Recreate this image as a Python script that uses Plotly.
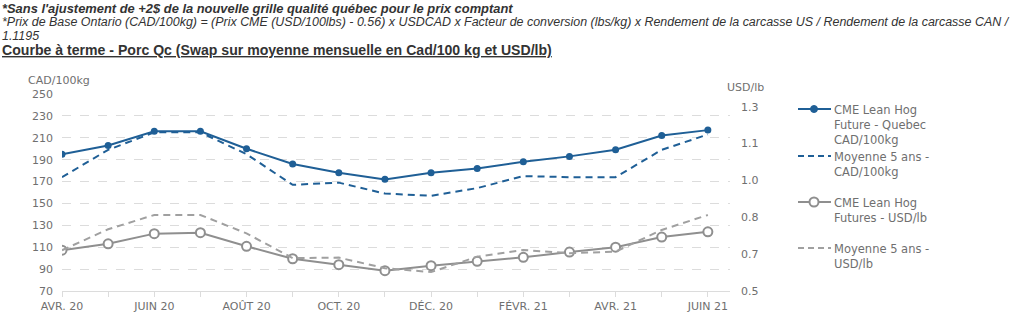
import plotly.graph_objects as go

# Monthly contract months (Apr 2020 - Jun 2021)
months = ["AVR. 20", "MAI 20", "JUIN 20", "JUIL. 20", "AOÛT 20", "SEPT. 20", "OCT. 20",
          "NOV. 20", "DÉC. 20", "JANV. 21", "FÉVR. 21", "MARS 21", "AVR. 21", "MAI 21", "JUIN 21"]
month_labels = ["AVR. 20", "", "JUIN 20", "", "AOÛT 20", "", "OCT. 20", "",
                "DÉC. 20", "", "FÉVR. 21", "", "AVR. 21", "", "JUIN 21"]

# CAD/100kg series (left axis)
cme_quebec_cad = [195, 203, 216, 216, 200, 186, 178, 172, 178, 182, 188, 193, 199, 212, 217]
avg5_cad = [174, 199, 215, 215, 195, 167, 169, 159, 157, 164, 175, 174, 174, 199, 213]

# USD/lb series (right axis)
cme_usd = [0.677, 0.705, 0.749, 0.753, 0.694, 0.640, 0.614, 0.588, 0.610, 0.629,
           0.646, 0.669, 0.690, 0.734, 0.757]
avg5_usd = [0.677, 0.768, 0.830, 0.830, 0.750, 0.643, 0.645, 0.599, 0.582, 0.649,
            0.678, 0.664, 0.671, 0.765, 0.830]

left_ticks = [70, 90, 110, 130, 150, 170, 190, 210, 230, 250]
right_ticks = [0.5, 0.66, 0.82, 0.98, 1.14, 1.30]

series_names = [
    "CME Lean Hog<br>Future - Quebec<br>CAD/100kg",
    "Moyenne 5 ans -<br>CAD/100kg",
    "CME Lean Hog<br>Futures - USD/lb",
    "Moyenne 5 ans -<br>USD/lb",
]

BLUE = "#1f5f96"
GRAY = "#8f8f8f"
GRAY_DASH = "#a0a0a0"
GRID = "#dcdcdc"
TXT = "#6f6f6f"
FONT = "DejaVu Sans"
DASH = "7px,5px"

# plot area geometry (pixels)
W, H = 1024, 324
L, R, T, B = 62, 294, 94, 33
PW, PH = W - L - R, H - T - B


def px(xp):
    return (xp - L) / PW


def py(yp):
    return (H - B - yp) / PH


fig = go.Figure()
fig.add_trace(go.Scatter(
    x=months, y=cme_quebec_cad, mode="lines+markers", name=series_names[0],
    line=dict(color=BLUE, width=2), marker=dict(color=BLUE, size=7)))
fig.add_trace(go.Scatter(
    x=months, y=avg5_cad, mode="lines", name=series_names[1],
    line=dict(color=BLUE, width=2, dash=DASH)))
fig.add_trace(go.Scatter(
    x=months, y=cme_usd, mode="lines+markers", yaxis="y2", name=series_names[2],
    line=dict(color=GRAY, width=2),
    marker=dict(color="white", size=9, line=dict(color=GRAY, width=2))))
fig.add_trace(go.Scatter(
    x=months, y=avg5_usd, mode="lines", yaxis="y2", name=series_names[3],
    line=dict(color=GRAY_DASH, width=2, dash=DASH)))

fig.update_layout(
    width=W, height=H,
    margin=dict(l=L, r=R, t=T, b=B),
    paper_bgcolor="white", plot_bgcolor="white",
    font=dict(family=FONT, size=11, color=TXT),
    showlegend=False,
    xaxis=dict(
        type="category", range=[0, 14.48],
        tickmode="array", tickvals=months, ticktext=month_labels,
        ticks="outside", ticklen=5, tickcolor=GRID,
        showline=True, linecolor=GRID, linewidth=1,
        showgrid=False, tickangle=0,
        tickfont=dict(family=FONT, size=11, color=TXT)),
    yaxis=dict(
        range=[70, 250], tickvals=left_ticks,
        showgrid=True, gridcolor=GRID, griddash="dash", gridwidth=1,
        zeroline=False, ticks="", ticklabelstandoff=8,
        tickfont=dict(family=FONT, size=11, color=TXT)),
    yaxis2=dict(
        overlaying="y", side="right", range=[0.5, 1.355],
        tickvals=right_ticks, ticktext=[f"{v:.1f}" for v in right_ticks],
        showgrid=False, zeroline=False, ticks="", ticklabelstandoff=10,
        tickfont=dict(family=FONT, size=11, color=TXT)),
)

# Axis unit captions
fig.add_annotation(xref="paper", yref="paper", x=px(26), y=py(80), xanchor="left",
                   yanchor="middle", showarrow=False, text="CAD/100kg",
                   font=dict(family=FONT, size=11, color=TXT))
fig.add_annotation(xref="paper", yref="paper", x=px(725), y=py(87), xanchor="left",
                   yanchor="middle", showarrow=False, text="USD/lb",
                   font=dict(family=FONT, size=11, color=TXT))

# Legend drawn at the right of the plot: (symbol row y, line colour, dash, marker)
legend_rows = [
    (109, BLUE, "solid", "filled"),
    (156, BLUE, "6px,4px", None),
    (202, GRAY, "solid", "open"),
    (248, GRAY_DASH, "6px,4px", None),
]
for name, (yrow, col, dash, mark) in zip(series_names, legend_rows):
    fig.add_shape(type="line", xref="paper", yref="paper",
                  x0=px(798), x1=px(831), y0=py(yrow), y1=py(yrow),
                  line=dict(color=col, width=2, dash=dash))
    if mark == "filled":
        fig.add_shape(type="circle", xref="paper", yref="paper",
                      xsizemode="pixel", ysizemode="pixel",
                      xanchor=px(814), yanchor=py(yrow),
                      x0=-3.5, x1=3.5, y0=-3.5, y1=3.5,
                      fillcolor=col, line=dict(color=col, width=1))
    elif mark == "open":
        fig.add_shape(type="circle", xref="paper", yref="paper",
                      xsizemode="pixel", ysizemode="pixel",
                      xanchor=px(814), yanchor=py(yrow),
                      x0=-4.5, x1=4.5, y0=-4.5, y1=4.5,
                      fillcolor="white", line=dict(color=col, width=2))
    fig.add_annotation(xref="paper", yref="paper", x=px(832), y=py(yrow - 8),
                       xanchor="left", yanchor="top", align="left", showarrow=False,
                       text=name, font=dict(family=FONT, size=11.5, color=TXT))

# Notes and title above the chart
NOTE_FONT = "Liberation Sans Narrow, Arial Narrow, Liberation Sans, Arial"
notes = [
    ("<b><i>*Sans l'ajustement de +2$ de la nouvelle grille qualité québec pour le prix comptant</i></b>", 8, 12.9),
    ("<i>*Prix de Base Ontario (CAD/100kg) = (Prix CME (USD/100lbs) - 0.56) x USDCAD x Facteur de conversion (lbs/kg) x Rendement de la carcasse US / Rendement de la carcasse CAN /</i>", 22, 12.45),
    ("<i>1.1195</i>", 36, 12.45),
    ("<b><u>Courbe à terme - Porc Qc (Swap sur moyenne mensuelle en Cad/100 kg et USD/lb)</u></b>", 50, 14.1),
]
for text, ypix, size in notes:
    fig.add_annotation(xref="paper", yref="paper", x=px(0), y=py(ypix),
                       xanchor="left", yanchor="middle", showarrow=False,
                       text=text, font=dict(family=NOTE_FONT, size=size, color="#333333"))

fig.write_html("out.html")
